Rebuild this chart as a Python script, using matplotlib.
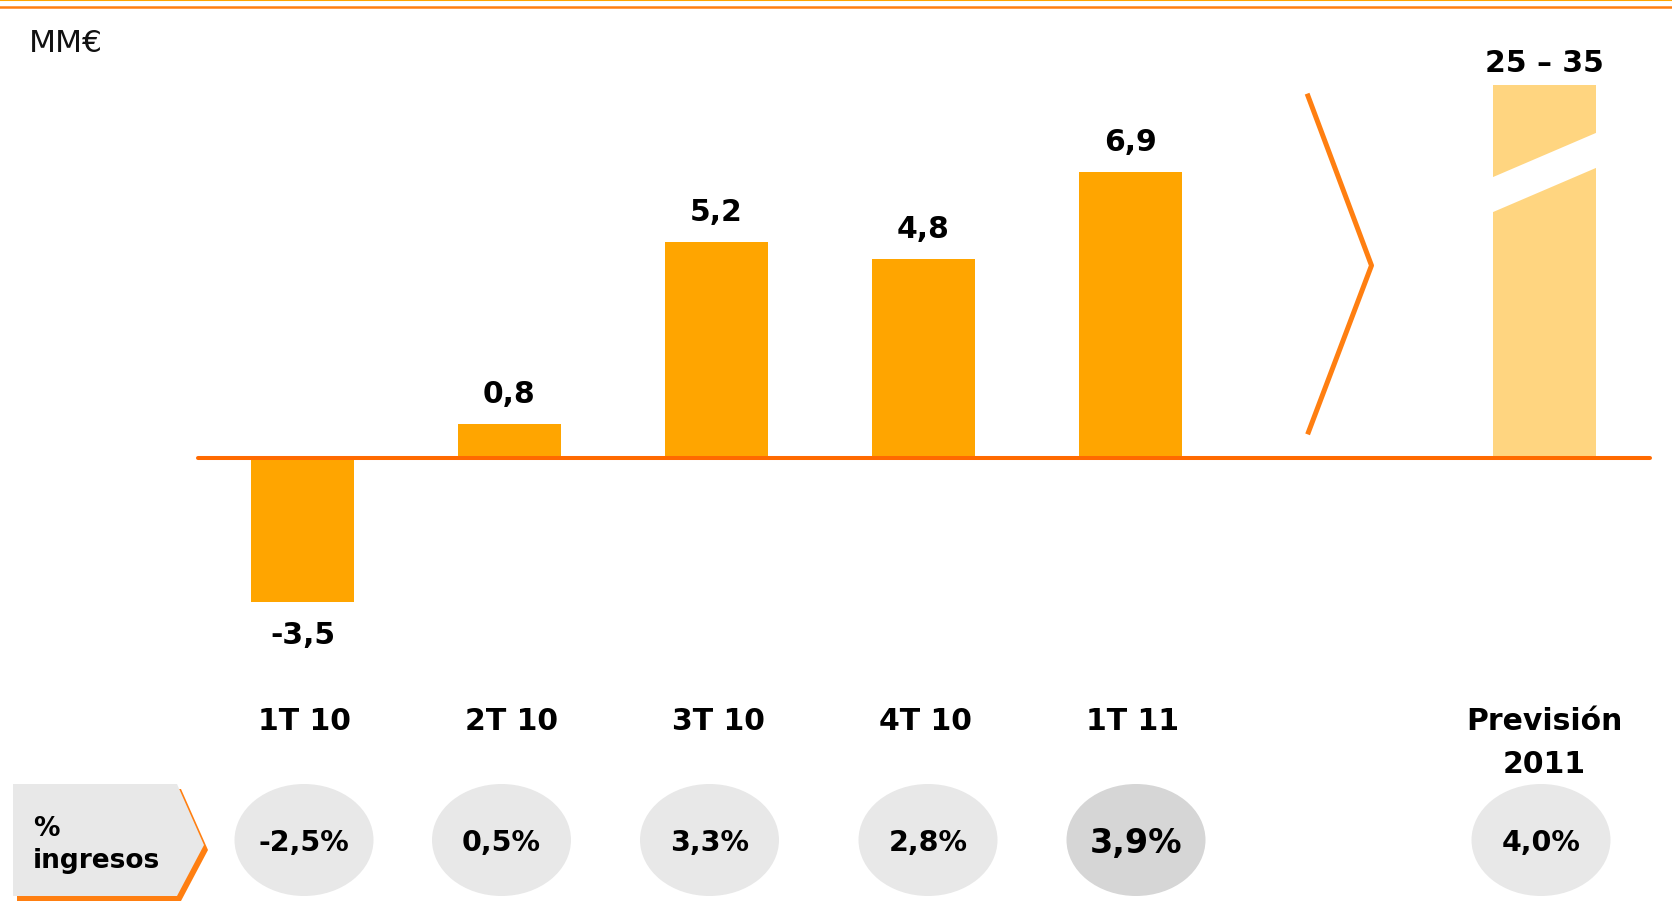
import matplotlib
matplotlib.use('Agg')
import matplotlib.pyplot as plt
from matplotlib.patches import Ellipse, Polygon

# --- Data (MM€) ---
periods = ['1T 10', '2T 10', '3T 10', '4T 10', '1T 11']
ebitda = [-3.5, 0.8, 5.2, 4.8, 6.9]
pct_ingresos = [-2.5, 0.5, 3.3, 2.8, 3.9]
forecast_name = ['Previsión', '2011']
forecast_range = [25, 35]
forecast_pct = 4.0


def fmt(v, suffix=''):
    return f'{v:.1f}'.replace('.', ',') + suffix


# --- Layout (pixels of the 1672x912 canvas) ---
W, H = 1672, 912
X0, SLOT = 302.5, 207      # centre of first slot, slot spacing
Y0, UNIT = 458.5, 41.4     # baseline, pixels per MM€
FORECAST_SLOT = 6
FORECAST_BAR_H = 9.0       # broken bar, drawn height only
pill_x = [304, 501.5, 709.5, 928, 1136, 1541]
pill_y = 841

ORANGE = '#FFA500'
LIGHT = '#FFD580'
LINE = '#FF6A00'
ACCENT = '#FF7F11'
GREY = '#E8E8E8'
GREY_DK = '#D6D6D6'
BOLD = dict(fontweight='bold', color='black', family='DejaVu Sans')

fig = plt.figure(figsize=(W / 100, H / 100), dpi=100)

# bars in value units
ax = fig.add_axes([0, 0, 1, 1])
ax.set_xlim(-X0 / SLOT, (W - X0) / SLOT)
ax.set_ylim(-(H - Y0) / UNIT, Y0 / UNIT)
ax.axis('off')

slots = list(range(len(periods)))
ax.bar(slots, ebitda, width=103 / SLOT, color=ORANGE, zorder=2)
ax.bar([FORECAST_SLOT], [FORECAST_BAR_H], width=103 / SLOT, color=LIGHT, zorder=2)

for i, v in zip(slots, ebitda):
    if v >= 0:
        ax.text(i, v + 22 / UNIT, fmt(v), ha='center', va='baseline', fontsize=21.5, **BOLD)
    else:
        ax.text(i, v - 41 / UNIT, fmt(v), ha='center', va='baseline', fontsize=21.5, **BOLD)
ax.text(FORECAST_SLOT, FORECAST_BAR_H + 14 / UNIT,
        f'{forecast_range[0]} \u2013 {forecast_range[1]}',
        ha='center', va='baseline', fontsize=21.5, **BOLD)

# overlay in pixel coordinates for decoration
ov = fig.add_axes([0, 0, 1, 1], facecolor='none')
ov.set_xlim(0, W)
ov.set_ylim(H, 0)
ov.axis('off')


def sx(i):
    return X0 + SLOT * i


# top rules
ov.plot([0, W], [1, 1], color=ORANGE, lw=1.5)
ov.plot([0, W], [8, 8], color=ACCENT, lw=1.8)

ov.text(29, 52, 'MM€', fontsize=22.5, color='#111111', va='baseline', ha='left')

# baseline
ov.plot([198, 1650], [Y0, Y0], color=LINE, lw=2.9, solid_capstyle='round', zorder=3)

# break in the forecast bar
fx0, fx1 = sx(FORECAST_SLOT) - 56, sx(FORECAST_SLOT) + 56
ov.add_patch(Polygon([(fx0, 180), (fx1, 132), (fx1, 167), (fx0, 215)],
                     closed=True, facecolor='white', edgecolor='none', zorder=4))

# chevron
ov.plot([1308, 1371.5, 1308.5], [97, 266.5, 433], color=ACCENT, lw=3.6, zorder=3)

# category labels
for i, p in zip(slots, periods):
    ov.text(sx(i) + 2, 730, p, ha='center', va='baseline', fontsize=21.5, **BOLD)
for k, line in enumerate(forecast_name):
    ov.text(sx(FORECAST_SLOT), 730 + 43 * k, line, ha='center', va='baseline',
            fontsize=21.5, **BOLD)

# "% ingresos" tag
ov.add_patch(Polygon([(17, 790), (181, 790), (208, 851), (181, 902), (17, 902)],
                     closed=True, facecolor=ACCENT, edgecolor='none'))
ov.add_patch(Polygon([(13, 785), (177, 785), (204, 846), (177, 897), (13, 897)],
                     closed=True, facecolor=GREY, edgecolor='none'))
ov.text(33, 836, '%', ha='left', va='baseline', fontsize=19, **BOLD)
ov.text(33, 868, 'ingresos', ha='left', va='baseline', fontsize=19, **BOLD)

# percentage pills
pill_vals = pct_ingresos + [forecast_pct]
for k, (x, v) in enumerate(zip(pill_x, pill_vals)):
    hl = k == len(pct_ingresos) - 1
    ov.add_patch(Ellipse((x, pill_y), 139, 112, facecolor=GREY_DK if hl else GREY, edgecolor='none'))
    fs = 24 if hl else 20.5
    ov.text(x, pill_y + fs * 100 / 72 * 0.729 / 2, fmt(v, '%'), ha='center', va='baseline',
            fontsize=fs, **BOLD)

fig.savefig('out.png', dpi=100)
